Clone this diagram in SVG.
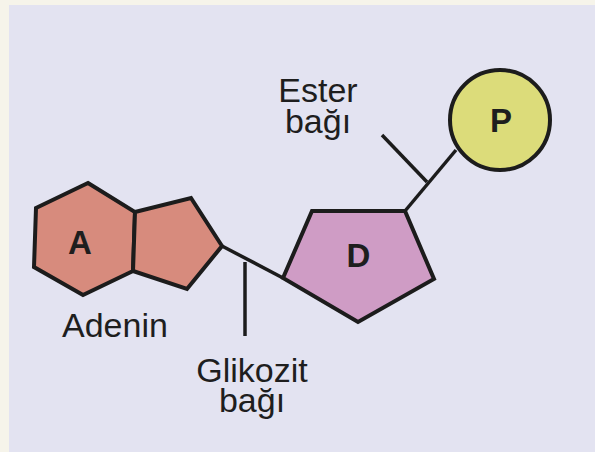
<svg xmlns="http://www.w3.org/2000/svg" width="595" height="452" viewBox="0 0 595 452">
<style>
.shape{stroke:#1c1c1c;stroke-width:4;stroke-linejoin:miter}
.link{stroke:#1c1c1c;stroke-width:3.5;fill:none}
.lbl{font-family:"Liberation Sans",Arial,sans-serif;font-size:34px;fill:#1e1e1e}
.sym{font-family:"Liberation Sans",Arial,sans-serif;font-size:33px;font-weight:bold;fill:#1e1e1e;text-anchor:middle}
</style>
<rect x="0" y="0" width="595" height="452" fill="#f6f4ea"/>
<rect x="9" y="5" width="586" height="447" fill="#e3e3f1"/>
<g id="connectors">
<line class="link" x1="222" y1="246" x2="283" y2="278"/>
<line class="link" x1="245" y1="262" x2="245" y2="336"/>
<line class="link" x1="405" y1="211" x2="456" y2="150"/>
<line class="link" x1="382" y1="135" x2="427" y2="182"/>
</g>
<g id="adenin">
<polygon class="shape" fill="#d78b7d" points="88,183 135,212 133,271 83,295 34,267 36,208"/>
<polygon class="shape" fill="#d78b7d" points="135,212 191,198 222,246 187,289 133,271"/>
<text class="sym" x="80" y="254">A</text>
<text class="lbl" x="62" y="337">Adenin</text>
</g>
<g id="deoksiriboz">
<polygon class="shape" fill="#cf9cc5" points="283,278 312,211 405,211 434,279 358,322"/>
<text class="sym" x="358.5" y="267">D</text>
</g>
<g id="fosfat">
<circle class="shape" fill="#dcdc7a" cx="500" cy="120" r="50"/>
<text class="sym" x="501" y="132">P</text>
</g>
<g id="ester">
<text class="lbl" x="318" y="102" text-anchor="middle">Ester</text>
<text class="lbl" x="318" y="133" text-anchor="middle">bağı</text>
</g>
<g id="glikozit">
<text class="lbl" x="252" y="382" text-anchor="middle">Glikozit</text>
<text class="lbl" x="252" y="412" text-anchor="middle">bağı</text>
</g>
</svg>
